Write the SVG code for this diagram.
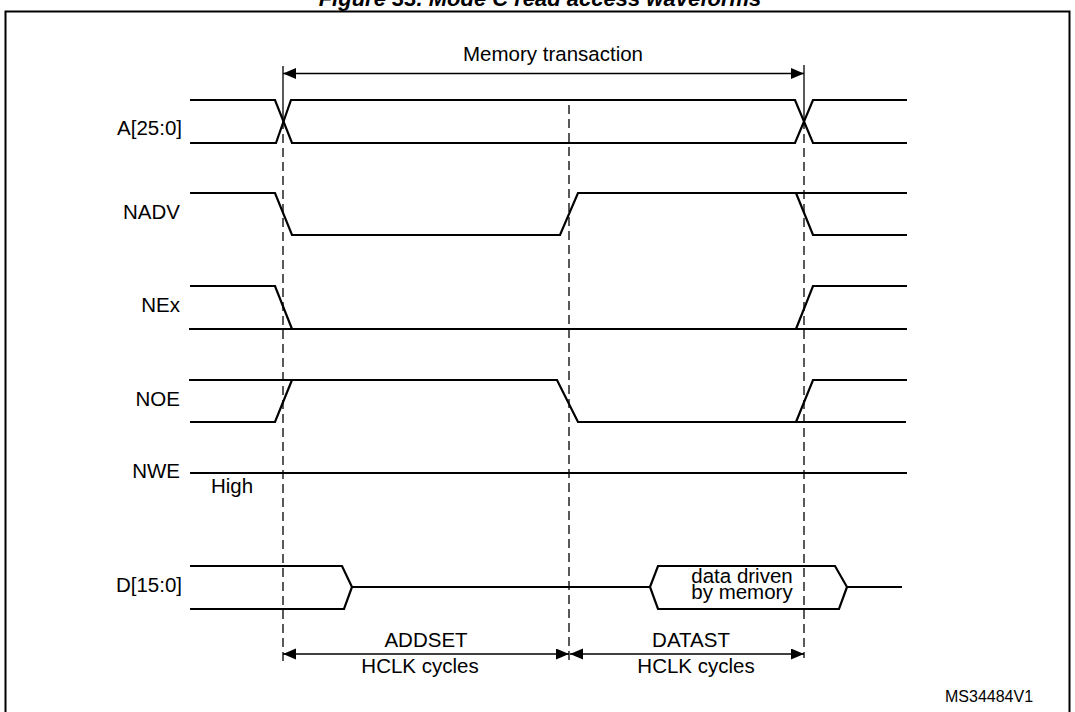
<svg xmlns="http://www.w3.org/2000/svg" width="1075" height="712" viewBox="0 0 1075 712">
<style>
  .sig{fill:none;stroke:#000;stroke-width:2.2;stroke-linejoin:miter}
  .dash{fill:none;stroke:#000;stroke-width:1.3;stroke-dasharray:9 5}
  .thin{fill:none;stroke:#000;stroke-width:1.3}
  .arr{fill:none;stroke:#000;stroke-width:1.3;marker-start:url(#ah);marker-end:url(#ah)}
  .lbl{font-family:"Liberation Sans",Arial,sans-serif;font-size:20.5px;fill:#000}
  .title{font-family:"Liberation Sans",Arial,sans-serif;font-size:22px;font-weight:bold;font-style:italic;fill:#000}
  .small{font-family:"Liberation Sans",Arial,sans-serif;font-size:16px;fill:#000}
</style>
<defs>
  <marker id="ah" markerUnits="userSpaceOnUse" markerWidth="14" markerHeight="12" refX="13" refY="5.5" orient="auto-start-reverse">
    <path d="M0,0 L13,5.5 L0,11 Z" fill="#000"/>
  </marker>
</defs>
<rect width="1075" height="712" fill="#fff"/>
<g id="frame">
  <text class="title" x="540" y="6" text-anchor="middle">Figure 33. Mode C read access waveforms</text>
  <path d="M5.5,720 V11.5 H1069.5 V720" fill="none" stroke="#000" stroke-width="2"/>
</g>
<g id="connectors">
  <line class="thin" x1="283" y1="66" x2="283" y2="120"/>
  <line class="dash" x1="283" y1="120" x2="283" y2="665"/>
  <line class="dash" x1="569" y1="105" x2="569" y2="663"/>
  <line class="thin" x1="804" y1="65" x2="804" y2="120"/>
  <line class="dash" x1="804" y1="120" x2="804" y2="658"/>
  <line class="arr" x1="283" y1="73.5" x2="804" y2="73.5"/>
  <line class="arr" x1="283" y1="654" x2="569" y2="654"/>
  <line class="arr" x1="570" y1="654" x2="804" y2="654"/>
</g>
<g id="sig-A">
  <text class="lbl" x="182" y="134.5" text-anchor="end">A[25:0]</text>
  <path class="sig" d="M190,100 H275 L292,143 H795 L813,100 H907"/>
  <path class="sig" d="M190,143 H276 L291,100 H795 L813,143 H907"/>
</g>
<g id="sig-NADV">
  <text class="lbl" x="180" y="219" text-anchor="end">NADV</text>
  <path class="sig" d="M190,193 H275 L292,235 H560 L578,193 H907"/>
  <path class="sig" d="M796,193 L813,235 H907"/>
</g>
<g id="sig-NEx">
  <text class="lbl" x="180" y="311.5" text-anchor="end">NEx</text>
  <path class="sig" d="M190,286 H275 L292,329"/>
  <path class="sig" d="M189,329 H907"/>
  <path class="sig" d="M796,329 L813,286 H907"/>
</g>
<g id="sig-NOE">
  <text class="lbl" x="180" y="405.5" text-anchor="end">NOE</text>
  <path class="sig" d="M190,422 H275 L292,380"/>
  <path class="sig" d="M189,380 H557 L578,422 H906"/>
  <path class="sig" d="M796,422 L813,380 H907"/>
</g>
<g id="sig-NWE">
  <text class="lbl" x="180" y="478" text-anchor="end">NWE</text>
  <text class="lbl" x="211" y="493">High</text>
  <path class="sig" d="M190,473 H907"/>
</g>
<g id="sig-D">
  <text class="lbl" x="182" y="592" text-anchor="end">D[15:0]</text>
  <path class="sig" d="M190,566 H342 L352,587 L344,609 H190"/>
  <path class="sig" d="M352,587 H650"/>
  <path class="sig" d="M650,587 L658,566 H835 L847,587 L839,609 H658 Z"/>
  <path class="sig" d="M847,587 H902"/>
  <text class="lbl" x="742" y="582.5" text-anchor="middle">data driven</text>
  <text class="lbl" x="742" y="598.5" text-anchor="middle">by memory</text>
</g>
<g id="labels">
  <text class="lbl" x="553" y="61" text-anchor="middle">Memory transaction</text>
  <text class="lbl" x="426" y="647" text-anchor="middle">ADDSET</text>
  <text class="lbl" x="420" y="672.5" text-anchor="middle">HCLK cycles</text>
  <text class="lbl" x="691" y="647" text-anchor="middle">DATAST</text>
  <text class="lbl" x="696" y="672.5" text-anchor="middle">HCLK cycles</text>
  <text class="small" x="945" y="701.5">MS34484V1</text>
</g>
</svg>
